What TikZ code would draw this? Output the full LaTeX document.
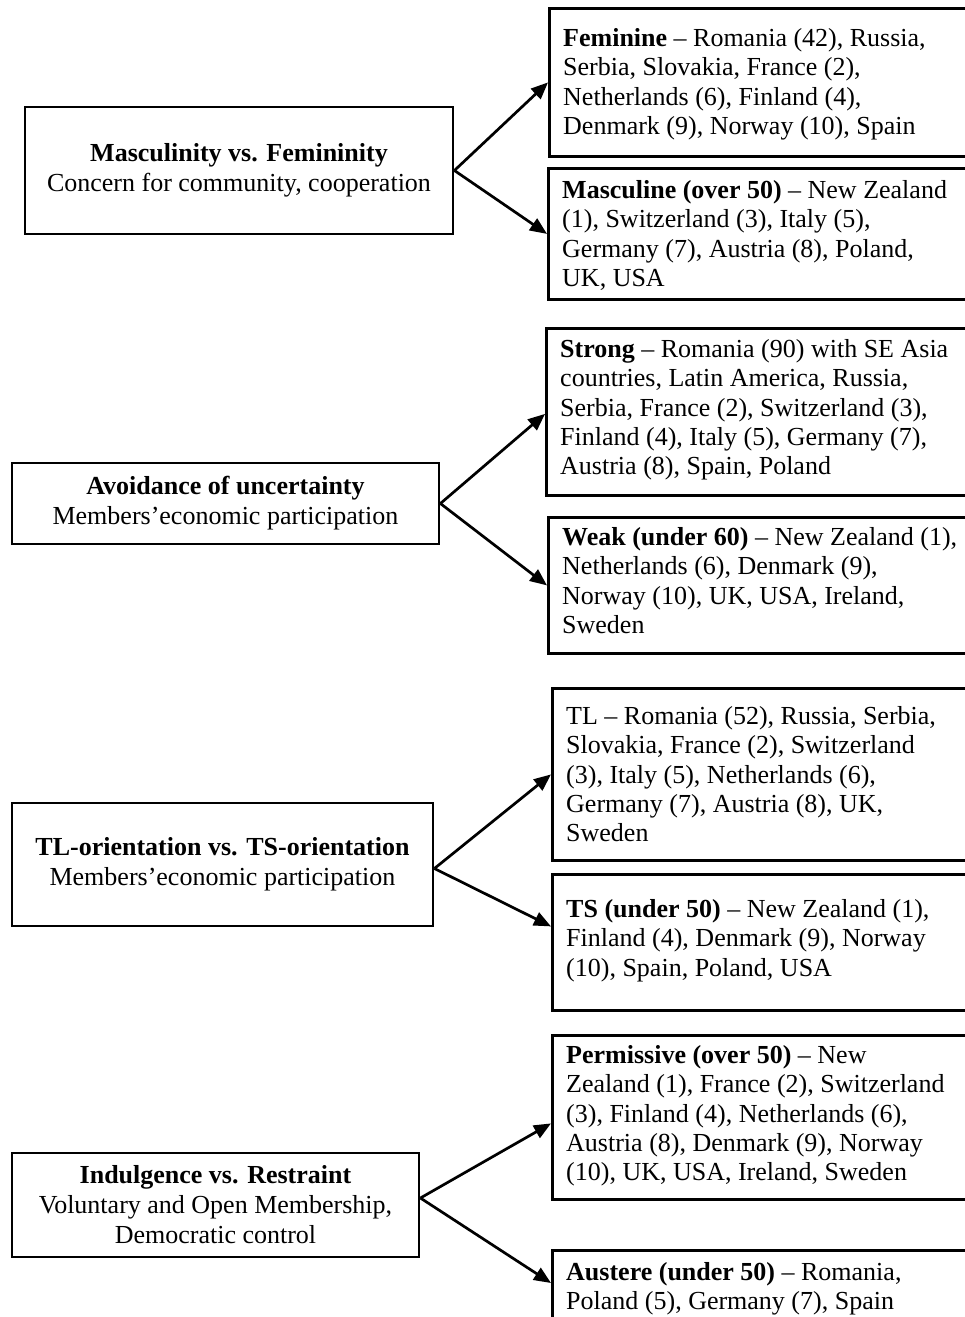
\documentclass[tikz,border=0pt]{standalone}
\usepackage{fontspec}
\setmainfont{Liberation Serif}
\usetikzlibrary{arrows.meta}
\begin{document}
\begin{tikzpicture}[x=1pt,y=-1pt,
  lbox/.style={draw, line width=2.8pt, inner sep=0pt, align=center,
    font=\fontsize{26}{30}\selectfont},
  rbox/.style={draw, line width=2.8pt, inner sep=0pt, anchor=north west},
  rtext/.style={anchor=north west, inner sep=0pt, align=left,
    font=\fontsize{26}{29.4}\selectfont},
  arr/.style={line width=2.7pt, -{Triangle[length=17pt,width=14pt]}}]
\useasboundingbox (0,0) rectangle (965,1317);
\clip (0,0) rectangle (965,1317);
\fill[white] (0,0) rectangle (965,1317);

% ---------- left boxes ----------
\node[lbox, minimum width=428pt, minimum height=127pt] (mf) at (239,170.5)
  {\textbf{Masculinity vs. Femininity}\\Concern for community, cooperation};
\node[lbox, minimum width=427pt, minimum height=81pt] (av) at (225.5,503.5)
  {\textbf{Avoidance of uncertainty}\\Members’economic participation};
\node[lbox, minimum width=421pt, minimum height=123pt] (tlo) at (222.5,864.5)
  {\textbf{TL-orientation vs. TS-orientation}\\Members’economic participation};
\node[lbox, minimum width=407pt, minimum height=104pt] (ind) at (215.5,1205)
  {\textbf{Indulgence vs. Restraint}\\Voluntary and Open Membership,\\Democratic control};

% ---------- right boxes ----------
\node[rbox, minimum width=437pt, minimum height=148pt] (fem) at (548,7) {};
\node[rbox, minimum width=438pt, minimum height=131pt] (mas) at (547,167) {};
\node[rbox, minimum width=440pt, minimum height=167pt] (str) at (545,327) {};
\node[rbox, minimum width=438pt, minimum height=136pt] (wea) at (547,516) {};
\node[rbox, minimum width=434pt, minimum height=172pt] (tl) at (551,687) {};
\node[rbox, minimum width=434pt, minimum height=136pt] (ts) at (551,873) {};
\node[rbox, minimum width=434pt, minimum height=164pt] (per) at (551,1034) {};
\node[rbox, minimum width=434pt, minimum height=120pt] (aus) at (551,1249) {};

% ---------- texts (strut 22pt: baseline = top + 22) ----------
\node[rtext] (femt) at (563,24)
  {\rule{0pt}{22pt}\textbf{Feminine} – Romania (42), Russia,\\Serbia, Slovakia, France (2),\\Netherlands (6), Finland (4),\\Denmark (9), Norway (10), Spain};
\node[rtext] (mast) at (562,176)
  {\rule{0pt}{22pt}\textbf{Masculine (over 50)} – New Zealand\\(1), Switzerland (3), Italy (5),\\Germany (7), Austria (8), Poland,\\UK, USA};
\node[rtext] (strt) at (560,335)
  {\rule{0pt}{22pt}\textbf{Strong} – Romania (90) with SE Asia\\countries, Latin America, Russia,\\Serbia, France (2), Switzerland (3),\\Finland (4), Italy (5), Germany (7),\\Austria (8), Spain, Poland};
\node[rtext] (weat) at (562,523)
  {\rule{0pt}{22pt}\textbf{Weak (under 60)} – New Zealand (1),\\Netherlands (6), Denmark (9),\\Norway (10), UK, USA, Ireland,\\Sweden};
\node[rtext] (tlt) at (566,702)
  {\rule{0pt}{22pt}TL – Romania (52), Russia, Serbia,\\Slovakia, France (2), Switzerland\\(3), Italy (5), Netherlands (6),\\Germany (7), Austria (8), UK,\\Sweden};
\node[rtext] (tst) at (566,895)
  {\rule{0pt}{22pt}\textbf{TS (under 50)} – New Zealand (1),\\Finland (4), Denmark (9), Norway\\(10), Spain, Poland, USA};
\node[rtext] (pert) at (566,1041)
  {\rule{0pt}{22pt}\textbf{Permissive (over 50)} – New\\Zealand (1), France (2), Switzerland\\(3), Finland (4), Netherlands (6),\\Austria (8), Denmark (9), Norway\\(10), UK, USA, Ireland, Sweden};
\node[rtext] (aust) at (566,1258)
  {\rule{0pt}{22pt}\textbf{Austere (under 50)} – Romania,\\Poland (5), Germany (7), Spain};

% ---------- connectors ----------
\draw[arr] (mf.east) -- (fem.west);
\draw[arr] (mf.east) -- (mas.west);
\draw[arr] (av.east) -- ([yshift=-2pt]str.west);
\draw[arr] (av.east) -- (wea.west);
\draw[arr] ([yshift=-4pt]tlo.east) -- (tl.west);
\draw[arr] ([yshift=-4pt]tlo.east) -- ([yshift=16pt]ts.west);
\draw[arr] ([yshift=7pt]ind.east) -- ([yshift=-6pt]per.west);
\draw[arr] ([yshift=7pt]ind.east) -- ([yshift=-34pt]aus.north west);
\end{tikzpicture}
\end{document}
